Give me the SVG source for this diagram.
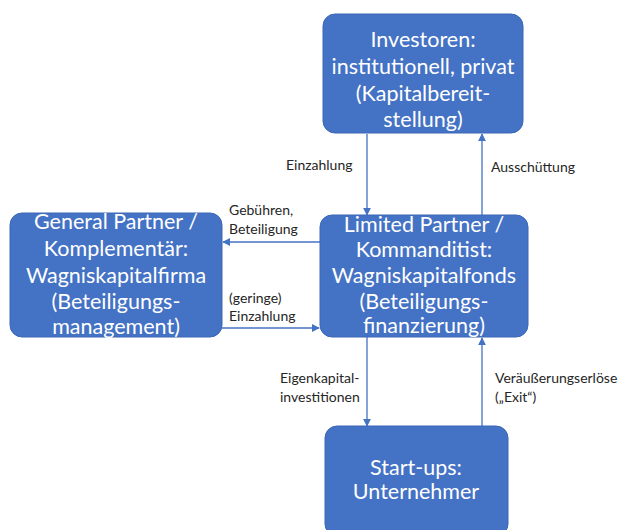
<svg xmlns="http://www.w3.org/2000/svg" width="621" height="530" viewBox="0 0 621 530">
<defs>
<marker id="ah" viewBox="0 0 10 10" refX="9" refY="5" markerWidth="8" markerHeight="8" markerUnits="userSpaceOnUse" orient="auto">
<path d="M0,0 L10,5 L0,10 z" fill="#4472C4"/>
</marker>
<style>
.box{fill:#4472C4;stroke:#3B66B5;stroke-width:1}
.bt{font-family:Lato,"Open Sans","Liberation Sans",sans-serif;font-size:21.5px;fill:#ffffff;text-anchor:middle}
.lb{font-family:Lato,"Open Sans","Liberation Sans",sans-serif;font-size:14px;fill:#262626}
.cn{stroke:#4472C4;stroke-width:1.3;fill:none;marker-end:url(#ah)}
</style>
</defs>
<rect width="621" height="530" fill="#ffffff"/>
<g id="connectors">
<line class="cn" x1="367" y1="134" x2="367" y2="215"/>
<line class="cn" x1="482" y1="215" x2="482" y2="134"/>
<line class="cn" x1="320" y1="242" x2="223" y2="242"/>
<line class="cn" x1="222" y1="328" x2="319" y2="328"/>
<line class="cn" x1="367" y1="337" x2="367" y2="426"/>
<line class="cn" x1="482" y1="426" x2="482" y2="338"/>
<text class="lb" x="286" y="170">Einzahlung</text>
<text class="lb" x="491" y="172">Ausschüttung</text>
<text class="lb" x="229" y="215">Gebühren,</text>
<text class="lb" x="229" y="234">Beteiligung</text>
<text class="lb" x="229" y="303">(geringe)</text>
<text class="lb" x="229" y="321">Einzahlung</text>
<text class="lb" x="280" y="383">Eigenkapital-</text>
<text class="lb" x="280" y="402">investitionen</text>
<text class="lb" x="495" y="383">Veräußerungserlöse</text>
<text class="lb" x="495" y="402">(„Exit“)</text>
</g>
<g id="investoren">
<rect class="box" x="323" y="14" width="200" height="119" rx="12"/>
<text class="bt" x="423" y="47">Investoren:</text>
<text class="bt" x="423" y="74">institutionell, privat</text>
<text class="bt" x="423" y="101">(Kapitalbereit-</text>
<text class="bt" x="423" y="127">stellung)</text>
</g>
<g id="general-partner">
<rect class="box" x="10" y="213" width="212" height="124" rx="12"/>
<text class="bt" x="116" y="229">General Partner /</text>
<text class="bt" x="116" y="256">Komplementär:</text>
<text class="bt" x="116" y="283">Wagniskapitalfirma</text>
<text class="bt" x="116" y="309">(Beteiligungs-</text>
<text class="bt" x="116" y="334">management)</text>
</g>
<g id="limited-partner">
<rect class="box" x="320" y="215" width="208" height="122" rx="12"/>
<text class="bt" x="424" y="232">Limited Partner /</text>
<text class="bt" x="424" y="257">Kommanditist:</text>
<text class="bt" x="424" y="283">Wagniskapitalfonds</text>
<text class="bt" x="424" y="309">(Beteiligungs-</text>
<text class="bt" x="424" y="333">finanzierung)</text>
</g>
<g id="startups">
<rect class="box" x="325" y="426" width="183" height="110" rx="12"/>
<text class="bt" x="416" y="475">Start-ups:</text>
<text class="bt" x="416" y="499">Unternehmer</text>
</g>
</svg>
